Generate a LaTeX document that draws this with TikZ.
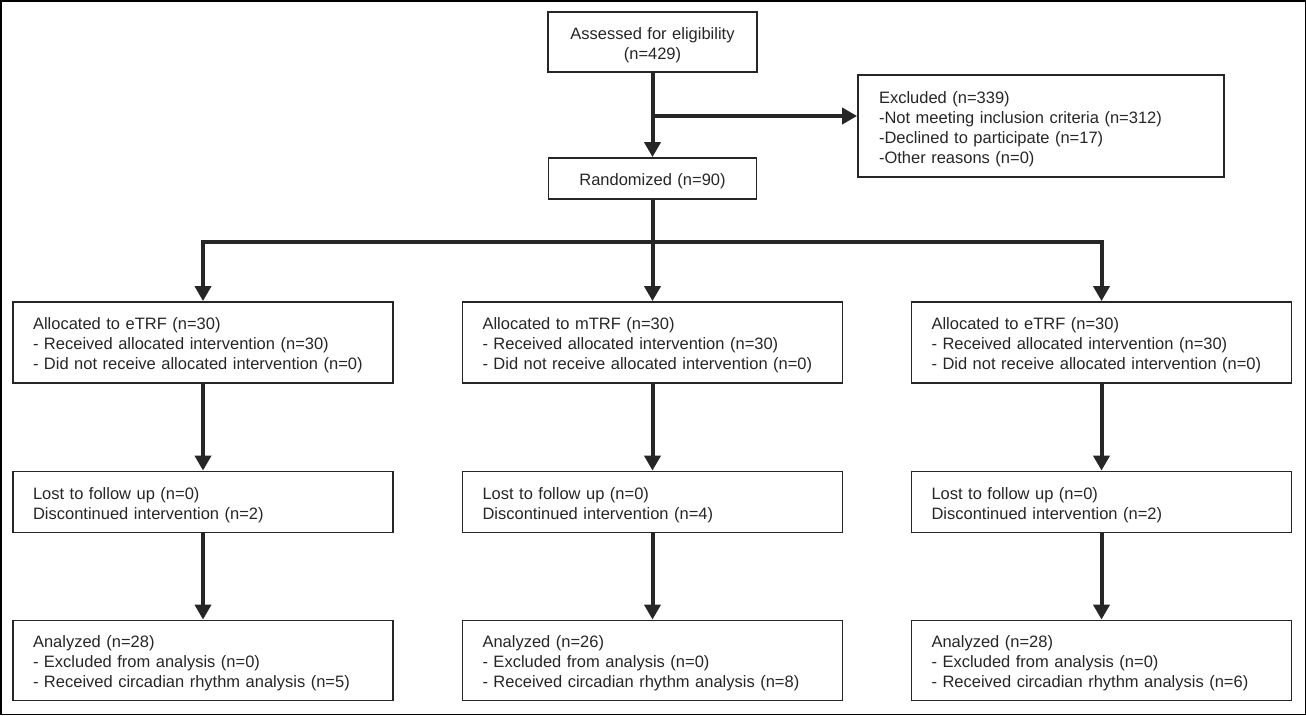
\documentclass[tikz,border=0pt]{standalone}
\usepackage{fontspec}
\setmainfont{Liberation Sans}
\usetikzlibrary{arrows.meta,calc}
\begin{document}
\begin{tikzpicture}[x=1pt,y=-1pt,
  every node/.style={font=\fontsize{16.5}{20}\selectfont, text=black!85},
  boxbase/.style={draw=black!85, line width=1.8pt, rectangle, inner ysep=0pt, execute at begin node={\rule{0pt}{17.5pt}}},
  cbox/.style={boxbase, align=center, inner xsep=10pt},
  lbox/.style={boxbase, align=left, inner xsep=20pt, text width=340pt},
  conn/.style={line width=4pt, draw=black!85},
  arr/.style={conn, -{Triangle[width=16pt,length=15pt]}}]
\useasboundingbox (0,0) rectangle (1306,715);
\draw[line width=1.5pt] (0.75,0.75) rectangle (1305.25,714.25);
% top
\node[cbox, text width=189pt, minimum height=60pt] (assess) at (652.5,42) {Assessed for eligibility\\(n=429)};
\node[cbox, text width=188pt, minimum height=41pt] (rand) at (652.5,178.5) {Randomized (n=90)};
\node[boxbase, align=left, inner xsep=21pt, text width=324pt, minimum height=102pt] (excl) at (1041,126)
  {Excluded (n=339)\\-Not meeting inclusion criteria (n=312)\\-Declined to participate (n=17)\\-Other reasons (n=0)};
% row 1
\node[lbox, minimum height=81pt] (a1) at (203,342.5) {Allocated to eTRF (n=30)\\- Received allocated intervention (n=30)\\- Did not receive allocated intervention (n=0)};
\node[lbox, minimum height=81pt] (a2) at (652.5,342.5) {Allocated to mTRF (n=30)\\- Received allocated intervention (n=30)\\- Did not receive allocated intervention (n=0)};
\node[lbox, minimum height=81pt] (a3) at (1101.5,342.5) {Allocated to eTRF (n=30)\\- Received allocated intervention (n=30)\\- Did not receive allocated intervention (n=0)};
% row 2
\node[lbox, minimum height=61pt] (l1) at (203,502) {Lost to follow up (n=0)\\Discontinued intervention (n=2)};
\node[lbox, minimum height=61pt] (l2) at (652.5,502) {Lost to follow up (n=0)\\Discontinued intervention (n=4)};
\node[lbox, minimum height=61pt] (l3) at (1101.5,502) {Lost to follow up (n=0)\\Discontinued intervention (n=2)};
% row 3
\node[lbox, minimum height=80pt] (n1) at (203,660.5) {Analyzed (n=28)\\- Excluded from analysis (n=0)\\- Received circadian rhythm analysis (n=5)};
\node[lbox, minimum height=80pt] (n2) at (652.5,660.5) {Analyzed (n=26)\\- Excluded from analysis (n=0)\\- Received circadian rhythm analysis (n=8)};
\node[lbox, minimum height=80pt] (n3) at (1101.5,660.5) {Analyzed (n=28)\\- Excluded from analysis (n=0)\\- Received circadian rhythm analysis (n=6)};
% connectors
\coordinate (j1) at (652.5,116);
\coordinate (j2) at (652.5,242);
\draw[arr] (assess.south) -- (rand.north);
\draw[arr] (j1) -- (j1 -| excl.west);
\draw[arr] (rand.south) -- (a2.north);
\draw[conn, line cap=rect] (a1.north |- j2) -- (a3.north |- j2);
\draw[arr] (a1.north |- j2) -- (a1.north);
\draw[arr] (a3.north |- j2) -- (a3.north);
\foreach \i in {1,2,3} {
  \draw[arr] (a\i.south) -- (l\i.north);
  \draw[arr] (l\i.south) -- (n\i.north);
}
\end{tikzpicture}
\end{document}
